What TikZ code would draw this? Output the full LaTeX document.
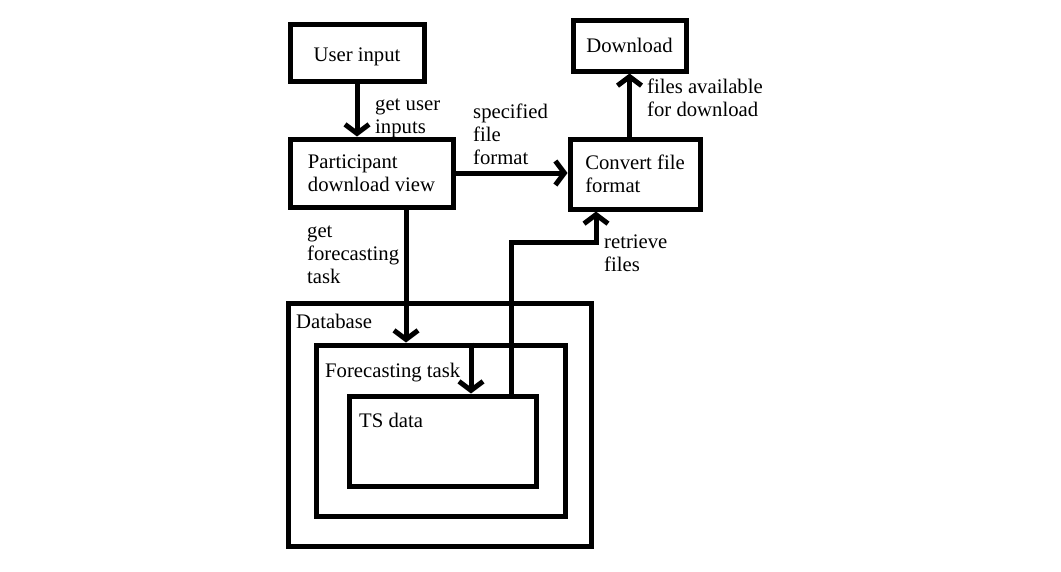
\documentclass[tikz,border=0pt]{standalone}
\usepackage{fontspec}
\setmainfont{Liberation Serif}
\usetikzlibrary{arrows.meta}

\tikzset{
  txt/.style={font=\fontsize{20.7}{23}\selectfont},
  box/.style={txt, draw, line width=5pt, inner sep=0pt, align=left},
  frame/.style={draw, line width=5pt, inner sep=0pt},
  lbl/.style={txt, anchor=north west, inner sep=0pt, align=left},
  arr/.style={line width=5pt, -{Straight Barb[length=9pt,width=24pt]}},
  link/.style={line width=5pt}
}

\begin{document}
\begin{tikzpicture}[x=1pt, y=-1pt]
\useasboundingbox (0,0) rectangle (1061,571);

% process boxes
\node[box, minimum width=134pt, minimum height=57pt, text height=17pt, text depth=0pt] (user) at (357,52.5) {User input};
\node[box, minimum width=163pt, minimum height=68pt] (part) at (371.5,173) {Participant\\download view};
\node[box, minimum width=130pt, minimum height=70pt] (conv) at (635,174) {Convert file\\format};
\node[box, minimum width=113pt, minimum height=51pt] (dl) at (629.5,45.5) {Download};

% nested storage
\node[frame, minimum width=303pt, minimum height=243pt] (db) at (439.5,424.5) {};
\node[frame, minimum width=249pt, minimum height=171pt] (fc) at (440.5,430.5) {};
\node[frame, minimum width=187pt, minimum height=90pt] (ts) at (442.5,441) {};
\node[lbl] (dbt) at (296,311.9) {\strut Database};
\node[lbl] (fct) at (325,360.9) {\strut Forecasting task};
\node[lbl] (tst) at (359,410.9) {\strut TS data};

% connectors
\draw[arr] (user.south) -- (user.south |- part.north);
\draw[arr] (part.east) -- (part.east -| conv.west);
\draw[arr] (conv.north -| dl.south) -- (dl.south);
\draw[arr] ([xshift=34.5pt]part.south) -- ([xshift=34.5pt]part.south |- fc.north);
\draw[arr] ([xshift=28.5pt]ts.north |- fc.north) -- ([xshift=28.5pt]ts.north);
\draw[arr] ([xshift=68.5pt]ts.north) |- ([xshift=-39pt,yshift=-30.5pt]conv.south) -- ([xshift=-39pt]conv.south);

% connector labels
\node[lbl] (l1) at (375,94.5) {\strut get user\\inputs};
\node[lbl] (l2) at (473,102) {\strut specified\\file\\format};
\node[lbl] (l3) at (647,77.5) {\strut files available\\for download};
\node[lbl] (l4) at (307,221) {\strut get\\forecasting\\task};
\node[lbl] (l5) at (604,232) {\strut retrieve\\files};
\end{tikzpicture}
\end{document}
